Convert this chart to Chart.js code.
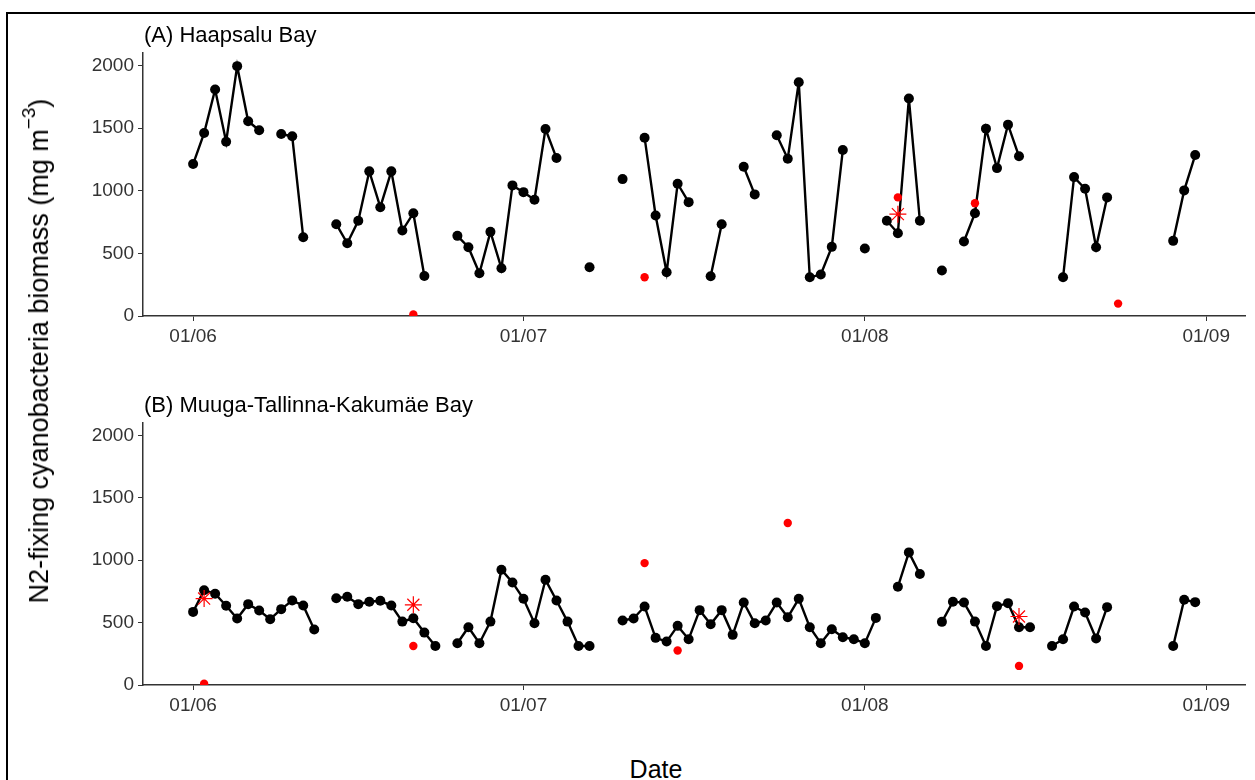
<!DOCTYPE html>
<html>
<head>
<meta charset="utf-8">
<script src="https://cdn.jsdelivr.net/npm/chart.js@4.4.1/dist/chart.umd.min.js"></script>
<style>
  body { margin: 0; background: #fff; width: 1255px; height: 780px; overflow: hidden; position: relative;
         font-family: "Liberation Sans", Arial, sans-serif; }
  .frame { position: absolute; left: 6px; top: 12px; width: 1300px; height: 800px;
           border-left: 2px solid #000; border-top: 2px solid #000; }
  canvas { position: absolute; left: 0; }
  .panel-title { position: absolute; left: 144px; font-size: 22px; color: #000; line-height: 1; }
  .y-title { position: absolute; left: 38px; top: 351px; font-size: 27px; white-space: nowrap;
             transform: translate(-50%, -50%) rotate(-90deg); color: #000; }
  .y-title sup { font-size: 19px; position: relative; top: -3px; }
  .x-title { position: absolute; left: 656px; top: 769px; font-size: 25px;
             transform: translate(-50%, -50%); color: #000; }
</style>
</head>
<body>
<div class="frame"></div>
<canvas id="haapsalu" width="1255" height="345" style="top:0"></canvas>
<canvas id="muuga" width="1255" height="344" style="top:370px"></canvas>
<div class="panel-title" style="top:24px">(A) Haapsalu Bay</div>
<div class="panel-title" style="top:394px">(B) Muuga-Tallinna-Kakumäe Bay</div>
<div class="y-title">N2-fixing cyanobacteria biomass (mg m<sup>−3</sup>)</div>
<div class="x-title">Date</div>
<script>
// x axis ticks (dd/mm)
const xTickLabels = ['01/06', '01/07', '01/08', '01/09'];
const yTicks = [0, 500, 1000, 1500, 2000];

// (A) Haapsalu Bay
const haapsaluDates = ['01/06','02/06','03/06','04/06','05/06','06/06','07/06','09/06','10/06','11/06',
  '14/06','15/06','16/06','17/06','18/06','19/06','20/06','21/06','22/06',
  '25/06','26/06','27/06','28/06','29/06','30/06','01/07','02/07','03/07','04/07',
  '07/07','10/07','12/07','13/07','14/07','15/07','16/07','18/07','19/07','21/07','22/07',
  '24/07','25/07','26/07','27/07','28/07','29/07','30/07','01/08','03/08','04/08','05/08','06/08',
  '08/08','10/08','11/08','12/08','13/08','14/08','15/08','19/08','20/08','21/08','22/08','23/08',
  '29/08','30/08','31/08'];
const haapsaluBiomass = [1213,1461,1808,1392,1995,1555,1483,1453,1435,629,
  733,581,760,1155,869,1155,682,821,320,
  640,549,341,672,381,1043,989,928,1493,1261,
  389,1093,1424,803,349,1056,909,317,733,1192,971,
  1443,1256,1867,309,331,552,1325,539,760,661,1736,760,
  363,595,821,1496,1181,1528,1275,309,1109,1016,549,947,
  600,1003,1285];
const haapsaluDotDates = ['21/06', '12/07', '04/08', '11/08', '24/08'];
const haapsaluDotValues = [12, 309, 947, 901, 99];
const haapsaluStarDates = ['04/08'];
const haapsaluStarValues = [813];

// (B) Muuga-Tallinna-Kakumäe Bay
const muugaDates = ['01/06','02/06','03/06','04/06','05/06','06/06','07/06','08/06','09/06','10/06','11/06','12/06',
  '14/06','15/06','16/06','17/06','18/06','19/06','20/06','21/06','22/06','23/06',
  '25/06','26/06','27/06','28/06','29/06','30/06','01/07','02/07','03/07','04/07','05/07','06/07','07/07',
  '10/07','11/07','12/07','13/07','14/07','15/07','16/07','17/07','18/07','19/07','20/07','21/07','22/07',
  '23/07','24/07','25/07','26/07','27/07','28/07','29/07','30/07','31/07','01/08','02/08',
  '04/08','05/08','06/08','08/08','09/08','10/08','11/08','12/08','13/08','14/08','15/08','16/08',
  '18/08','19/08','20/08','21/08','22/08','23/08','29/08','30/08','31/08'];
const muugaBiomass = [586,760,731,635,533,648,597,527,608,677,637,445,
  696,707,648,667,675,637,508,535,420,313,
  335,463,335,508,924,822,691,495,843,677,508,313,313,
  517,533,629,378,348,474,367,600,487,600,402,661,495,
  517,661,543,691,463,335,447,383,367,335,538,
  787,1063,889,506,667,661,508,313,632,656,463,463,
  313,367,629,581,372,624,313,683,664];
const muugaDotDates = ['02/06', '21/06', '12/07', '15/07', '25/07', '15/08'];
const muugaDotValues = [10, 313, 977, 276, 1299, 153];
const muugaStarDates = ['02/06', '21/06', '15/08'];
const muugaStarValues = [693, 643, 549];

const monthStart = { 6: 0, 7: 30, 8: 61, 9: 92 };
function dayOffset(label) {
  const [d, m] = label.split('/').map(Number);
  return monthStart[m] + d - 1;
}

// one point per day from 01/06 to 31/08; days without a sample stay null so the line breaks
function dailySeries(dates, values) {
  const byDay = new Map(dates.map((d, i) => [dayOffset(d), values[i]]));
  const out = [];
  for (let day = 0; day <= 91; day++) {
    out.push({ x: day, y: byDay.has(day) ? byDay.get(day) : null });
  }
  return out;
}

function points(dates, values) {
  return dates.map((d, i) => ({ x: dayOffset(d), y: values[i] }));
}

const tickFont = { family: 'Liberation Sans', size: 19 };

function makePanel(id, dates, values, dotDates, dotValues, starDates, starValues) {
  const ctx = document.getElementById(id).getContext('2d');
  return new Chart(ctx, {
    type: 'line',
    data: {
      datasets: [{
        data: points(starDates, starValues),
        showLine: false,
        pointStyle: 'star',
        pointRadius: 8.5,
        borderColor: '#ff0000',
        pointBorderWidth: 1.2,
        backgroundColor: '#ff0000'
      }, {
        data: points(dotDates, dotValues),
        showLine: false,
        pointStyle: 'circle',
        pointRadius: 4.2,
        pointBorderWidth: 0,
        backgroundColor: '#ff0000',
        borderColor: '#ff0000'
      }, {
        data: dailySeries(dates, values),
        borderColor: '#000',
        borderWidth: 2.4,
        backgroundColor: '#000',
        pointRadius: 5,
        pointBorderWidth: 0,
        pointBackgroundColor: '#000',
        spanGaps: false,
        tension: 0
      }]
    },
    options: {
      responsive: false,
      animation: false,
      layout: { padding: { top: 53, right: 5, left: 0, bottom: 0 } },
      plugins: { legend: { display: false }, tooltip: { enabled: false } },
      scales: {
        x: {
          type: 'linear',
          min: -4.55,
          max: 95.55,
          afterBuildTicks: scale => { scale.ticks = xTickLabels.map(l => ({ value: dayOffset(l) })); },
          afterFit: scale => { scale.height = 29; },
          ticks: {
            callback: (v) => xTickLabels.find(l => dayOffset(l) === v) || '',
            color: '#333',
            font: tickFont,
            padding: 4,
            maxRotation: 0,
            autoSkip: false
          },
          grid: { drawOnChartArea: false, drawTicks: true, tickLength: 5, tickColor: '#333' },
          border: { display: true, color: '#333', width: 1.5 }
        },
        y: {
          min: 0,
          max: 2100,
          afterBuildTicks: scale => { scale.ticks = yTicks.map(v => ({ value: v })); },
          afterFit: scale => { scale.width = 143; },
          ticks: { color: '#333', font: tickFont, padding: 4, callback: v => String(v) },
          grid: { drawOnChartArea: false, drawTicks: true, tickLength: 5, tickColor: '#333' },
          border: { display: true, color: '#333', width: 1.5 }
        }
      }
    }
  });
}

makePanel('haapsalu', haapsaluDates, haapsaluBiomass, haapsaluDotDates, haapsaluDotValues,
  haapsaluStarDates, haapsaluStarValues);
makePanel('muuga', muugaDates, muugaBiomass, muugaDotDates, muugaDotValues,
  muugaStarDates, muugaStarValues);
</script>
</body>
</html>
